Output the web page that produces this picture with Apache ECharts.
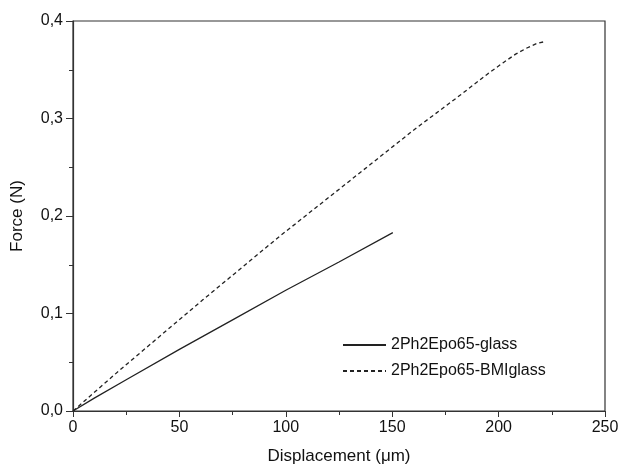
<!DOCTYPE html>
<html>
<head>
    <meta charset="utf-8" />
    <title></title>
    <script src="https://cdn.jsdelivr.net/npm/echarts@6/dist/echarts.min.js"></script>
</head>
<body style="margin:0;background:#fff;">
    <div id="main" style="width: 620px;height:475px;"></div>
    <script type="text/javascript">
        var glassX = [0, 10, 25, 50, 75, 100, 125, 150.3];
        var glassY = [0, 0.0132, 0.032, 0.0632, 0.0935, 0.1238, 0.1528, 0.183];
        var bmiX = [0, 22, 61, 97, 130, 160, 182, 195, 202, 208, 213, 218, 222];
        var bmiY = [0, 0.042, 0.114, 0.179, 0.236, 0.288, 0.324, 0.346, 0.357, 0.366, 0.372, 0.377, 0.379];
        var names = ['2Ph2Epo65-glass', '2Ph2Epo65-BMIglass'];

        function pairs(xs, ys) {
            return xs.map(function (x, i) { return [x, ys[i]]; });
        }

        var font = 'Liberation Sans, Arial, sans-serif';
        var myChart = echarts.init(document.getElementById('main'));
        myChart.setOption({
            backgroundColor: '#fff',
            animation: false,
            grid: {
                left: 73, right: 15, top: 21, bottom: 64,
                outerBoundsMode: 'none',
                show: true, borderColor: '#333', borderWidth: 1.2
            },
            legend: {
                orient: 'vertical',
                left: 337, top: 332,
                itemWidth: 43, itemHeight: 10, itemGap: 10,
                itemStyle: { opacity: 0 },
                textStyle: { fontFamily: font, fontSize: 16, color: '#111' },
                data: names
            },
            xAxis: {
                type: 'value', min: 0, max: 250, interval: 50,
                name: 'Displacement (μm)', nameLocation: 'middle', nameGap: 37,
                nameTextStyle: { fontFamily: font, fontSize: 17, color: '#111' },
                axisLine: { onZero: false, lineStyle: { color: '#333', width: 1.2 } },
                axisTick: { inside: false, length: 6, lineStyle: { color: '#333' } },
                minorTick: { show: true, splitNumber: 2, length: 4, lineStyle: { color: '#333' } },
                splitLine: { show: false },
                minorSplitLine: { show: false },
                axisLabel: { inside: false, fontFamily: font, fontSize: 16, color: '#111', margin: 9 }
            },
            yAxis: {
                type: 'value', min: 0, max: 0.4, interval: 0.1,
                name: 'Force (N)', nameLocation: 'middle', nameGap: 47,
                nameTextStyle: { fontFamily: font, fontSize: 17, color: '#111' },
                axisLine: { show: true, onZero: false, lineStyle: { color: '#333', width: 1.2 } },
                axisTick: { show: true, inside: false, length: 7, lineStyle: { color: '#333' } },
                minorTick: { show: true, splitNumber: 2, length: 4, lineStyle: { color: '#333' } },
                splitLine: { show: false },
                minorSplitLine: { show: false },
                axisLabel: {
                    inside: false, fontFamily: font, fontSize: 16, color: '#111', margin: 10,
                    formatter: function (v) { return v.toFixed(1).replace('.', ','); }
                }
            },
            series: [{
                name: names[0],
                type: 'line',
                symbol: 'none',
                lineStyle: { color: '#222', width: 1.3 },
                itemStyle: { color: '#222' },
                data: pairs(glassX, glassY)
            }, {
                name: names[1],
                type: 'line',
                symbol: 'none',
                lineStyle: { color: '#222', width: 1.3, type: [4, 3] },
                itemStyle: { color: '#222' },
                data: pairs(bmiX, bmiY)
            }]
        });
    </script>
</body>
</html>
